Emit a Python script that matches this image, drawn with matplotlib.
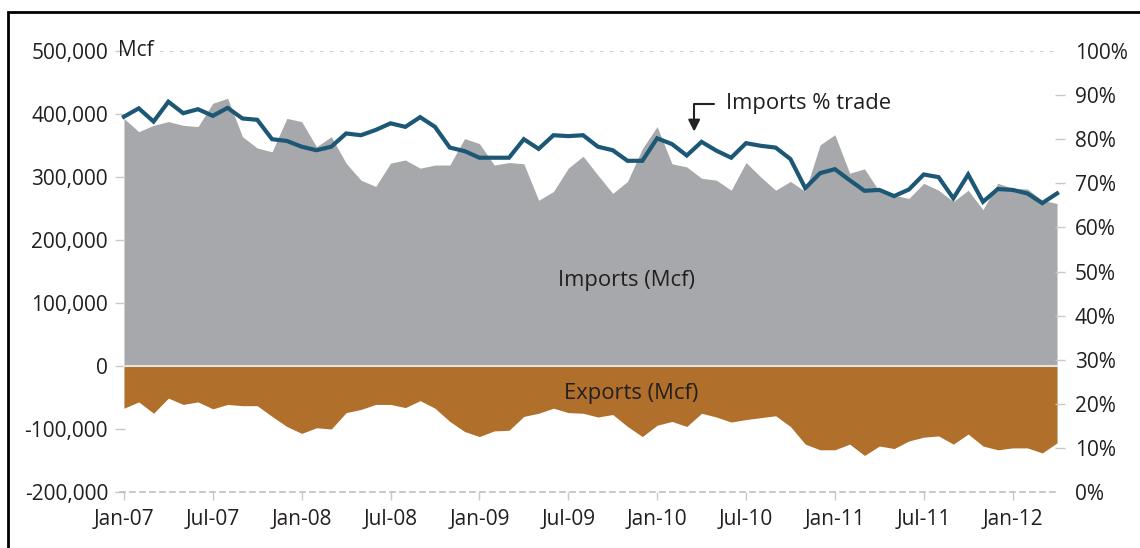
import numpy as np
import matplotlib.pyplot as plt
from matplotlib.patches import Rectangle

plt.rcParams['font.family'] = ['Open Sans', 'DejaVu Sans']

# monthly values, Jan-07 .. Apr-12
imports_mcf = [393, 372, 382, 388, 382, 380, 417, 425, 364, 346, 340, 393, 388, 348, 364, 322,
               295, 285, 322, 327, 314, 319, 319, 361, 353, 319, 323, 321, 263, 277, 314, 333,
               303, 274, 293, 345, 380, 321, 316, 298, 295, 279, 323, 300, 279, 293, 277, 351,
               367, 306, 313, 277, 271, 266, 290, 279, 261, 279, 248, 290, 282, 281, 263, 258]
exports_mcf = [-67, -57, -75, -51, -61, -57, -68, -61, -63, -63, -80, -96, -107, -98, -100, -74,
               -69, -61, -61, -66, -55, -67, -88, -104, -112, -103, -102, -80, -75, -67, -74, -75,
               -81, -77, -96, -112, -94, -88, -96, -75, -81, -89, -85, -82, -79, -96, -124, -133,
               -133, -124, -142, -127, -131, -119, -113, -111, -124, -108, -127, -133, -130, -130, -138, -122]
imports_pct = [85.1, 87.0, 84.0, 88.5, 85.9, 86.8, 85.3, 87.1, 84.7, 84.4, 80.0, 79.6, 78.3, 77.5, 78.3, 81.3,
               80.9, 82.1, 83.6, 82.8, 85.0, 82.8, 78.1, 77.3, 75.8, 75.8, 75.8, 80.0, 77.8, 80.9, 80.7, 80.9,
               78.3, 77.5, 75.1, 75.1, 80.2, 78.9, 76.3, 79.4, 77.4, 75.8, 79.1, 78.5, 78.1, 75.5, 68.9, 72.3,
               73.2, 70.7, 68.3, 68.5, 67.1, 68.6, 72.0, 71.4, 66.6, 72.0, 65.8, 68.7, 68.5, 67.7, 65.5, 67.7]
imports_mcf = np.array(imports_mcf) * 1000
exports_mcf = np.array(exports_mcf) * 1000
months = np.arange(len(imports_mcf))

xtick_pos = np.arange(0, 61, 6)
xtick_labels = ['Jan-07', 'Jul-07', 'Jan-08', 'Jul-08', 'Jan-09', 'Jul-09',
                'Jan-10', 'Jul-10', 'Jan-11', 'Jul-11', 'Jan-12']
left_ticks = [-200000, -100000, 0, 100000, 200000, 300000, 400000, 500000]
left_labels = ['-200,000', '-100,000', '0', '100,000', '200,000', '300,000', '400,000', '500,000']
right_ticks = np.arange(0, 101, 10)

GRAY = '#a7a8ab'
BROWN = '#b06f2b'
TEAL = '#1c5876'
TXT = '#231f20'

W, H = 1140, 548
fig = plt.figure(figsize=(W / 100, H / 100), dpi=100)
ax = fig.add_axes([119.5 / W, (H - 492) / H, 940.5 / W, 441 / H])
ax.set_xlim(-0.3, 63.2)
ax.set_ylim(-200000, 500000)

ax.fill_between(months, 0, imports_mcf, color=GRAY, lw=0)
ax.fill_between(months, 0, exports_mcf, color=BROWN, lw=0)
ax.plot([months[0], months[-1]], [0, 0], color='#e4e4e4', lw=1.5)

for s in ['top', 'right', 'left']:
    ax.spines[s].set_visible(False)
ax.spines['bottom'].set_color('#bdbdbd')
ax.spines['bottom'].set_linestyle((0, (3, 3)))
ax.spines['bottom'].set_linewidth(1.2)
ax.axhline(500000, xmin=0.043, xmax=1, color='#c4c4c4', lw=1.2, ls=(0, (2, 4)))

ax.set_yticks(left_ticks)
ax.set_yticklabels(left_labels)
ax.tick_params(axis='y', direction='inout', length=6.5, width=1, color='#c8c8c8',
               pad=5, labelsize=15, labelcolor=TXT)
for i in [0, len(left_ticks) - 1]:
    ax.yaxis.get_major_ticks()[i].tick1line.set_visible(False)
ax.text(-0.002, 500000, 'Mcf', transform=ax.get_yaxis_transform(), ha='left', va='center',
        fontsize=15, color=TXT)

ax.set_xticks(xtick_pos)
ax.set_xticklabels(xtick_labels)
ax.tick_params(axis='x', direction='out', length=6, width=1, color='#c8c8c8',
               pad=6.5, labelsize=15, labelcolor=TXT)

ax2 = ax.twinx()
ax2.set_ylim(0, 100)
for s in ['top', 'right', 'left', 'bottom']:
    ax2.spines[s].set_visible(False)
ax2.plot(months, imports_pct, color=TEAL, lw=3, solid_joinstyle='miter')
ax2.set_yticks(right_ticks)
ax2.set_yticklabels([f'{t}%' for t in right_ticks])
ax2.tick_params(axis='y', direction='inout', length=6.5, width=1, color='#c8c8c8',
                pad=7.5, labelsize=15, labelcolor=TXT)
for i in [0, len(right_ticks) - 1]:
    ax2.yaxis.get_major_ticks()[i].tick2line.set_visible(False)

ax.text(33.9, 135000, 'Imports (Mcf)', ha='center', va='center', fontsize=15.8, color=TXT)
ax.text(34.25, -43000, 'Exports (Mcf)', ha='center', va='center', fontsize=15.8, color=TXT)

ax2.annotate('', xy=(38.5, 81.7), xytext=(39.85, 88),
             arrowprops=dict(arrowstyle='-|>,head_length=0.7,head_width=0.35',
                             connectionstyle='angle,angleA=180,angleB=90,rad=0',
                             color='#222222', lw=1.5, shrinkA=0, shrinkB=0))
ax2.text(40.66, 88, 'Imports % trade', ha='left', va='center', fontsize=15.8, color=TXT)

fig.add_artist(Rectangle((8 / W, -0.1), 1.2, 0.1 + (H - 12) / H, transform=fig.transFigure,
                         fill=False, lw=2, ec='black'))

fig.savefig('out.png', dpi=100)
